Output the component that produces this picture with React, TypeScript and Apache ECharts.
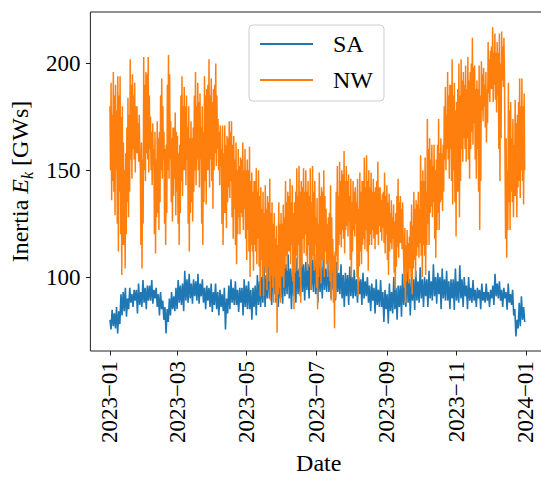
import React, { useEffect, useRef } from "react";
import * as echarts from "echarts";

// ---- data ----
const seriesNames = ["SA", "NW"];
const firstDate = "2023-01-01";
const lastDate = "2023-12-31";
const xTickLabels = ["2023-01", "2023-03", "2023-05", "2023-07", "2023-09", "2023-11", "2024-01"];
const yTickValues = [100, 150, 200];

// NW inertia [GWs], about two samples per day (daily highs / lows alternating)
const nwValues = [
  180, 150, 191, 136, 176, 145, 196, 140, 185, 129, 190, 150,
  178, 125, 194, 112, 185, 140, 194, 120, 175, 101, 180, 115,
  163, 115, 150, 104, 158, 120, 170, 135, 184, 128, 176, 140,
  202, 155, 190, 146, 195, 160, 185, 155, 191, 149, 180, 158,
  180, 158, 172, 154, 176, 160, 150, 115, 163, 104, 155, 125,
  203, 150, 190, 145, 196, 158, 195, 155, 203, 149, 185, 160,
  175, 150, 168, 143, 172, 152, 160, 120, 168, 111, 155, 128,
  173, 130, 165, 122, 168, 135, 185, 150, 193, 146, 180, 155,
  168, 125, 160, 115, 162, 130, 190, 150, 204, 146, 195, 155,
  173, 135, 165, 126, 170, 138, 170, 146, 177, 129, 168, 140,
  166, 125, 158, 115, 162, 130, 185, 145, 194, 138, 180, 150,
  189, 150, 180, 143, 185, 155, 170, 125, 180, 112, 165, 130,
  173, 135, 165, 126, 170, 140, 185, 150, 196, 143, 180, 155,
  191, 150, 182, 142, 186, 155, 170, 125, 180, 115, 168, 135,
  194, 145, 185, 134, 188, 150, 190, 150, 202, 142, 185, 155,
  193, 145, 182, 132, 188, 150, 190, 158, 200, 152, 185, 160,
  174, 150, 168, 143, 171, 152, 160, 125, 171, 115, 158, 130,
  171, 130, 162, 123, 166, 135, 165, 142, 173, 137, 168, 145,
  173, 128, 162, 118, 166, 132, 155, 115, 163, 106, 150, 120,
  160, 128, 152, 120, 156, 130, 155, 128, 163, 122, 150, 132,
  160, 118, 150, 108, 155, 122, 150, 112, 161, 100, 145, 115,
  149, 112, 140, 103, 145, 115, 145, 112, 151, 106, 140, 118,
  150, 105, 138, 91, 142, 108, 132, 100, 140, 91, 130, 105,
  143, 102, 132, 94, 138, 105, 135, 98, 146, 89, 130, 102,
  135, 95, 125, 88, 130, 100, 118, 90, 124, 74, 115, 92,
  135, 95, 125, 88, 130, 100, 125, 100, 134, 95, 128, 104,
  145, 110, 135, 103, 140, 112, 138, 112, 146, 106, 135, 115,
  143, 98, 130, 85, 135, 102, 140, 110, 151, 103, 138, 115,
  152, 100, 140, 88, 145, 105, 142, 118, 151, 111, 140, 120,
  150, 110, 140, 103, 145, 115, 138, 105, 151, 94, 135, 108,
  152, 110, 140, 103, 145, 115, 128, 95, 137, 85, 125, 100,
  149, 105, 138, 97, 142, 108, 140, 108, 150, 100, 138, 112,
  132, 106, 125, 100, 128, 108, 130, 98, 143, 89, 128, 102,
  118, 88, 110, 76, 112, 90, 140, 110, 152, 103, 138, 115,
  154, 120, 145, 114, 150, 122, 148, 118, 159, 111, 145, 122,
  152, 124, 145, 119, 148, 126, 138, 108, 146, 100, 135, 112,
  145, 122, 140, 119, 142, 125, 135, 100, 146, 91, 132, 105,
  149, 112, 140, 106, 145, 115, 145, 118, 156, 113, 142, 122,
  157, 112, 145, 103, 150, 115, 142, 120, 149, 115, 140, 122,
  146, 118, 140, 113, 142, 120, 145, 120, 154, 115, 142, 124,
  142, 121, 136, 117, 139, 123, 140, 116, 149, 111, 138, 120,
  143, 108, 135, 101, 139, 112, 130, 116, 136, 113, 128, 118,
  134, 102, 126, 94, 130, 105, 138, 114, 146, 109, 135, 116,
  138, 116, 132, 113, 135, 118, 118, 95, 123, 88, 115, 98,
  122, 102, 116, 97, 119, 104, 126, 100, 134, 92, 124, 104,
  140, 108, 132, 100, 136, 110, 134, 114, 140, 109, 132, 116,
  157, 110, 145, 100, 150, 115, 145, 110, 156, 101, 140, 115,
  174, 125, 160, 115, 165, 130, 155, 133, 162, 128, 152, 135,
  162, 118, 150, 109, 155, 122, 162, 130, 174, 122, 158, 135,
  165, 136, 158, 131, 162, 140, 180, 155, 189, 150, 176, 160,
  196, 155, 185, 146, 190, 160, 190, 145, 202, 134, 185, 150,
  191, 135, 178, 119, 182, 140, 188, 140, 200, 128, 185, 145,
  202, 160, 192, 154, 196, 165, 190, 160, 199, 154, 188, 165,
  203, 155, 192, 146, 196, 160, 200, 168, 212, 162, 198, 172,
  199, 155, 188, 146, 192, 160, 188, 140, 199, 122, 185, 145,
  201, 178, 195, 173, 198, 180, 190, 170, 196, 163, 188, 172,
  210, 186, 202, 182, 206, 188, 208, 188, 217, 182, 205, 190,
  214, 183, 205, 177, 210, 185, 205, 160, 214, 145, 200, 165,
  215, 192, 208, 189, 212, 195, 155, 118, 165, 109, 150, 122,
  191, 135, 178, 122, 182, 140, 165, 135, 174, 128, 162, 138,
  183, 138, 172, 128, 176, 142, 182, 145, 193, 137, 180, 150,
  193, 145, 180, 134, 186, 150,
];

// SA inertia [GWs], about one sample per day (highs / lows alternating)
const saValues = [
  80, 75.5, 84.7, 77, 83, 76, 86, 73.6, 84, 78, 92, 82,
  93, 84, 95, 81.5, 90, 85, 95, 88, 92, 86, 94, 89,
  94, 83, 97, 87, 93, 86, 98.6, 88, 95, 85, 96, 89,
  96, 89, 98.6, 87.5, 94, 90, 95, 86, 92, 82, 93, 85,
  89, 80, 86, 73.6, 85, 79, 90, 82, 93, 85, 91, 84,
  95, 85, 98.6, 88, 96, 87, 97, 84, 103, 89, 99, 88,
  101.5, 90, 97, 87.5, 99, 91, 98, 89, 101.5, 87.5, 97, 91,
  99, 88, 95, 85, 96, 89, 95, 86, 97, 83.7, 93, 87,
  97, 85, 93, 82, 94, 86, 92, 84, 95, 75.5, 90, 83,
  96, 85, 99, 88, 95, 87, 98, 87, 94, 83.7, 95, 88,
  95, 82, 99, 86, 96, 85, 98, 85, 94, 80, 95, 86,
  96, 82, 101, 87, 98, 86, 100, 88, 106, 86, 101, 90,
  109, 90, 103, 87, 105, 92, 101, 88, 104, 86, 100, 90,
  104, 87.5, 110, 91, 106, 92, 110.6, 90, 104, 85, 106, 91,
  105, 88, 109, 92, 104, 91, 111, 93, 106, 89, 107, 94,
  106, 90, 112.5, 94, 108, 93, 110.6, 92, 105, 88, 106, 93,
  105, 90, 110, 94, 104, 93, 108, 93, 103, 90, 104, 94,
  103, 89, 107, 93, 102, 92, 106, 90, 101, 86, 102, 91,
  101, 87, 105, 91, 100, 90, 103.4, 91, 99, 88, 100, 92,
  99, 87, 102, 90, 98, 91, 100, 88, 96, 84, 97, 89,
  95, 83, 99, 87, 94, 86, 98.6, 86, 93, 79, 94, 85,
  92, 78.3, 97, 84, 93, 83, 100, 85, 95, 80, 96, 86,
  96, 81.5, 101.5, 87, 97, 86, 104.6, 88, 99, 82, 100, 89,
  99, 84.6, 103, 89, 98, 88, 104.6, 90, 99, 86, 100, 91,
  99, 86, 103, 90, 98, 89, 106, 91, 100, 87.5, 102, 92,
  100, 85, 104, 90, 99, 89, 103, 89, 98, 85, 99, 90,
  99, 84.6, 104, 89, 98, 88, 105.5, 90, 99, 86, 100, 91,
  96, 85, 100, 89, 95, 88, 98.6, 89, 94, 86, 95, 90,
  94, 85, 97, 89, 93, 88, 97, 89, 93, 86, 94, 90,
  96, 87, 101.5, 91, 97, 90, 98, 89, 94, 86, 95, 90,
  93, 84.7, 97, 88, 92, 87, 94, 82, 85, 72.2, 80, 76,
  88, 77, 91, 80, 86, 79,
];

const DAY = 86400000;
const FONT = "Liberation Serif";

function parseDay(s: string): number {
  const [y, m, d] = s.split("-").map(Number);
  return Date.UTC(y, m - 1, d || 1);
}

function toSeries(values: number[]): [number, number][] {
  const t0 = parseDay(firstDate);
  const t1 = parseDay(lastDate);
  const step = (t1 - t0) / (values.length - 1);
  return values.map((v, i) => [t0 + i * step, v]);
}

export default function App() {
  const ref = useRef<HTMLDivElement>(null);

  useEffect(() => {
    if (!ref.current) return;
    const chart = echarts.init(ref.current, null, { renderer: "svg" });
    const tickStamps = xTickLabels.map(parseDay);
    const t0 = parseDay(firstDate);
    const xMin = t0 - 17.16 * DAY;
    const xMax = t0 + 383.55 * DAY;

    chart.setOption({
      animation: false,
      backgroundColor: "#ffffff",
      grid: {
        left: 87,
        top: 12,
        width: 460,
        height: 343,
        show: true,
        borderColor: "#222",
        borderWidth: 1,
        backgroundColor: "transparent",
      },
      legend: {
        data: seriesNames,
        orient: "vertical",
        left: 249,
        top: 25,
        padding: [7, 11, 9, 10],
        itemWidth: 53,
        itemHeight: 24,
        itemGap: 12,
        selectedMode: false,
        borderColor: "#cccccc",
        borderWidth: 1,
        borderRadius: 4,
        backgroundColor: "rgba(255,255,255,0.8)",
        itemStyle: { color: "rgba(0,0,0,0)", borderWidth: 0, borderColor: "rgba(0,0,0,0)" },
        lineStyle: { width: 2 },
        textStyle: {
          fontFamily: FONT,
          fontSize: 24,
          color: "#000",
          lineHeight: 24,
          padding: [0, 0, 0, 15],
        },
      },
      xAxis: {
        type: "value",
        min: xMin,
        max: xMax,
        name: "Date",
        nameLocation: "middle",
        nameGap: 100,
        nameTextStyle: { fontFamily: FONT, fontSize: 24, color: "#000" },
        axisLine: { show: false },
        splitLine: { show: false },
        axisTick: {
          show: true,
          length: 4.5,
          customValues: tickStamps,
          lineStyle: { color: "#222", width: 1 },
        },
        axisLabel: {
          customValues: tickStamps,
          rotate: 90,
          margin: 10,
          fontFamily: FONT,
          fontSize: 23,
          color: "#000",
          formatter: (v: number) => {
            const d = new Date(v);
            const m = String(d.getUTCMonth() + 1).padStart(2, "0");
            return `${d.getUTCFullYear()}\u2212${m}`;
          },
        },
      },
      yAxis: {
        type: "value",
        min: 65.4,
        max: 224.1,
        name: "{n|Inertia }{i|E}{s|k}{n| [GWs]}",
        nameLocation: "middle",
        nameGap: 50,
        nameTextStyle: {
          fontFamily: FONT,
          fontSize: 24,
          color: "#000",
          rich: {
            n: { fontFamily: FONT, fontSize: 24, color: "#000", lineHeight: 30 },
            i: { fontFamily: FONT, fontSize: 24, fontStyle: "italic", color: "#000", lineHeight: 30 },
            s: {
              fontFamily: FONT,
              fontSize: 16,
              fontStyle: "italic",
              color: "#000",
              lineHeight: 16,
              verticalAlign: "bottom",
            },
          },
        },
        axisLine: { show: false },
        splitLine: { show: false },
        axisTick: {
          show: true,
          length: 4.5,
          customValues: yTickValues,
          lineStyle: { color: "#222", width: 1 },
        },
        axisLabel: {
          customValues: yTickValues,
          margin: 10,
          fontFamily: FONT,
          fontSize: 23,
          color: "#000",
        },
      },
      series: [
        {
          name: seriesNames[0],
          type: "line",
          data: toSeries(saValues),
          symbol: "none",
          showSymbol: false,
          lineStyle: { color: "#1f77b4", width: 1.6 },
          itemStyle: { color: "#1f77b4" },
        },
        {
          name: seriesNames[1],
          type: "line",
          data: toSeries(nwValues),
          symbol: "none",
          showSymbol: false,
          lineStyle: { color: "#ff7f0e", width: 1.5 },
          itemStyle: { color: "#ff7f0e" },
        },
      ],
    });
    return () => chart.dispose();
  }, []);

  return (
    <div
      style={{
        position: "fixed",
        left: 0,
        top: 0,
        width: 541,
        height: 480,
        overflow: "hidden",
        background: "#fff",
      }}
    >
      <div ref={ref} style={{ width: 560, height: 480 }} />
    </div>
  );
}
